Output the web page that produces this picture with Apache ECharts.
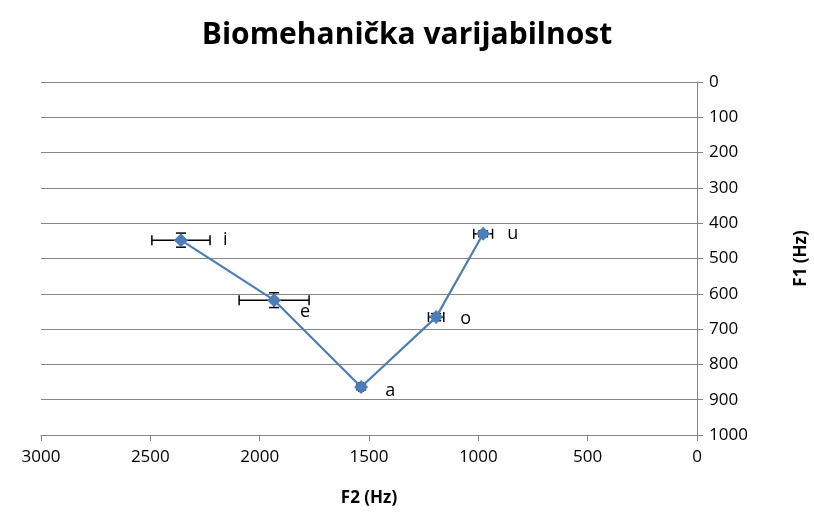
<!DOCTYPE html>
<html><head><meta charset="utf-8">
<script src="https://cdn.jsdelivr.net/npm/echarts@6/dist/echarts.min.js"></script>
<style>html,body{margin:0;padding:0;background:#fff}#c{width:814px;height:525px}</style>
</head><body><div id="c"></div>
<script>
const vowels = ['i', 'e', 'a', 'o', 'u'];
const f2 = [2360, 1934, 1536, 1193, 978];
const f1 = [448, 618, 864, 666, 430];
const f2Err = [133, 160, 10, 35, 43];
const f1Err = [20, 21, 8, 10, 8];
const xTicks = [0, 500, 1000, 1500, 2000, 2500, 3000];
const yTicks = [0, 100, 200, 300, 400, 500, 600, 700, 800, 900, 1000];

const labelOffsets = [[40, 0], [24, 12], [22, 4], [22, 2], [22, 0]];
const FONT = 'Open Sans';

const chart = echarts.init(document.getElementById('c'));
const pts = f2.map((x, i) => [x, f1[i]]);
const errData = f2.map((x, i) => [x, f1[i], f2Err[i], f1Err[i]]);

chart.setOption({
  animation: false,
  title: {
    text: 'Biomehanička varijabilnost', left: 'center', top: 15,
    textStyle: { fontFamily: FONT, fontSize: 30, fontWeight: 'bold', color: '#000' }
  },
  grid: { left: 41, right: 117, top: 82, bottom: 90, containLabel: false, outerBoundsMode: 'none' },
  xAxis: {
    type: 'value', inverse: true, min: xTicks[0], max: xTicks[xTicks.length - 1], interval: 500,
    name: 'F2 (Hz)', nameLocation: 'middle', nameGap: 55,
    nameTextStyle: { fontFamily: FONT, fontSize: 17, fontWeight: 'bold', color: '#000' },
    axisLine: { show: true, onZero: false, lineStyle: { color: '#868686', width: 1 } },
    axisTick: { show: true, length: 6, lineStyle: { color: '#868686' } },
    axisLabel: { fontFamily: FONT, fontSize: 17, color: '#000', margin: 14, formatter: v => String(v) },
    splitLine: { show: false }
  },
  yAxis: {
    type: 'value', inverse: true, position: 'right', min: yTicks[0], max: yTicks[yTicks.length - 1], interval: 100,
    name: 'F1 (Hz)', nameLocation: 'middle', nameGap: 96, nameRotate: 90,
    nameTextStyle: { fontFamily: FONT, fontSize: 17, fontWeight: 'bold', color: '#000' },
    axisLine: { show: true, onZero: false, lineStyle: { color: '#868686', width: 1 } },
    axisTick: { show: true, length: 6, lineStyle: { color: '#868686' } },
    axisLabel: { fontFamily: FONT, fontSize: 17, color: '#000', margin: 12, formatter: v => String(v) },
    splitLine: { show: true, lineStyle: { color: '#868686', width: 1 } }
  },
  series: [
    {
      type: 'custom', data: errData, z: 2,
      renderItem: (params, api) => {
        const x = api.value(0), y = api.value(1), ex = api.value(2), ey = api.value(3);
        const l = api.coord([x + ex, y]), r = api.coord([x - ex, y]);
        const t = api.coord([x, y - ey]), b = api.coord([x, y + ey]);
        const cap = 5;
        const st = { stroke: '#000', lineWidth: 1.5 };
        return {
          type: 'group', children: [
            { type: 'line', shape: { x1: l[0], y1: l[1], x2: r[0], y2: r[1] }, style: st },
            { type: 'line', shape: { x1: l[0], y1: l[1] - cap, x2: l[0], y2: l[1] + cap }, style: st },
            { type: 'line', shape: { x1: r[0], y1: r[1] - cap, x2: r[0], y2: r[1] + cap }, style: st },
            { type: 'line', shape: { x1: t[0], y1: t[1], x2: b[0], y2: b[1] }, style: st },
            { type: 'line', shape: { x1: t[0] - cap, y1: t[1], x2: t[0] + cap, y2: t[1] }, style: st },
            { type: 'line', shape: { x1: b[0] - cap, y1: b[1], x2: b[0] + cap, y2: b[1] }, style: st }
          ]
        };
      }
    },
    {
      type: 'line', data: pts, symbol: 'diamond', symbolSize: 14,
      lineStyle: { color: '#4a7ebb', width: 2.2 },
      itemStyle: { color: '#4a7ebb' }, z: 5,
      label: {
        show: true, position: 'right',
        fontFamily: FONT, fontSize: 18, color: '#000',
        formatter: p => vowels[p.dataIndex]
      },
      labelLayout: p => ({ dx: labelOffsets[p.dataIndex][0] - 10, dy: labelOffsets[p.dataIndex][1] })
    }
  ]
});
</script></body></html>
